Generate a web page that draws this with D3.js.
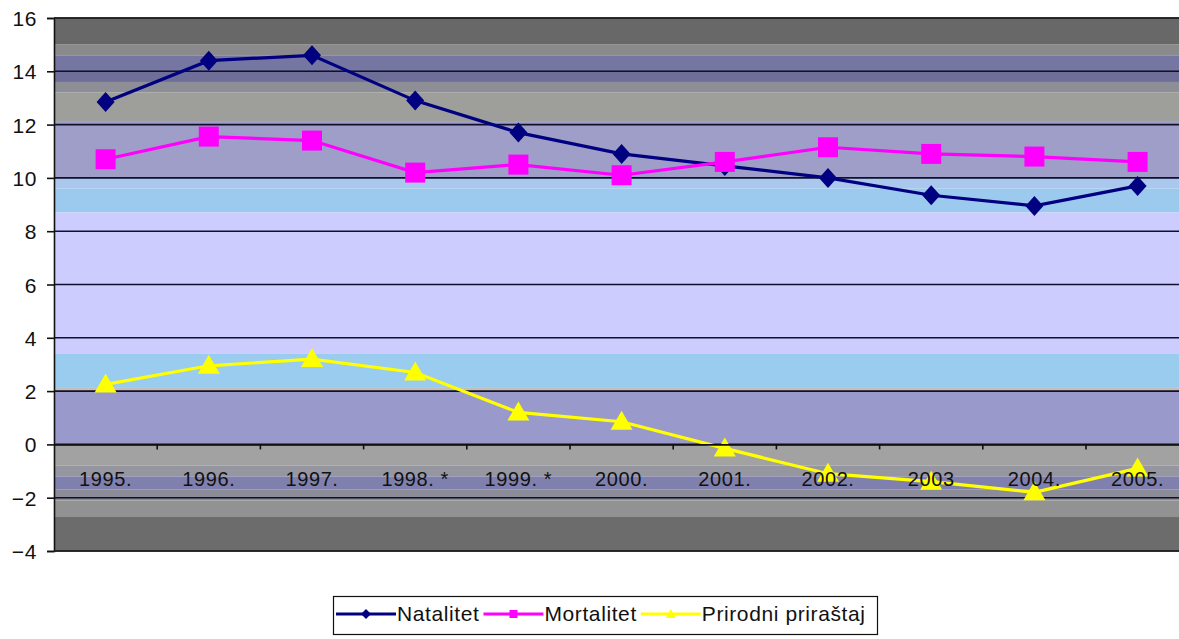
<!DOCTYPE html>
<html>
<head>
<meta charset="utf-8">
<script src="https://cdn.jsdelivr.net/npm/d3@7"></script>
<style>
  body { margin: 0; background: #fff; }
  text { font-family: "Liberation Sans", Arial, sans-serif; fill: #111; }
</style>
</head>
<body>
<svg id="chart"></svg>
<script>
// data
const years = ['1995.', '1996.', '1997.', '1998. *', '1999. *', '2000.', '2001.', '2002.', '2003', '2004.', '2005.'];
const natalitet = [12.85, 14.4, 14.6, 12.9, 11.7, 10.9, 10.45, 10.0, 9.35, 8.95, 9.7];
const mortalitet = [10.7, 11.55, 11.4, 10.2, 10.5, 10.1, 10.6, 11.15, 10.9, 10.8, 10.6];
const prirodni = [2.25, 2.95, 3.2, 2.7, 1.2, 0.85, -0.15, -1.1, -1.4, -1.8, -0.9];
const yTicks = [-4, -2, 0, 2, 4, 6, 8, 10, 12, 14, 16];

// background stripes of the plot area (value from, value to, colour)
const bands = [
  [16, 15.0, '#686868'], [15.0, 14.6, '#8a8a8c'], [14.6, 14.05, '#7676a2'],
  [14.05, 13.6, '#6e6e98'], [13.6, 13.2, '#8e8e96'], [13.2, 12.1, '#9e9e9a'],
  [12.1, 10.0, '#9e9ec8'], [10.0, 9.6, '#aac8ee'], [9.6, 8.7, '#9ccaee'],
  [8.7, 3.4, '#ccccff'], [3.4, 2.12, '#99ccee'], [2.12, 2.0, '#c4c0b8'],
  [2.0, 0, '#9999cc'], [0, -0.8, '#a2a2a2'], [-0.8, -1.2, '#9696a0'],
  [-1.2, -1.7, '#8080ae'], [-1.7, -2.1, '#8c8c98'], [-2.1, -2.7, '#929292'],
  [-2.7, -4, '#6c6c6c']
];

const width = 1179, height = 639;
const plot = {left: 54, top: 18, bottom: 551, step: 103.2};

const svg = d3.select('#chart')
    .attr('width', width)
    .attr('height', height);

const x = d3.scaleBand()
    .domain(years)
    .range([plot.left, plot.left + plot.step * years.length])
    .padding(0);
const y = d3.scaleLinear()
    .domain([-4, 16])
    .range([plot.bottom, plot.top]);

const right = x.range()[1];

// plot background
svg.append('g').selectAll('rect')
    .data(bands)
    .enter()
    .append('rect')
    .attr('x', plot.left)
    .attr('y', d => y(d[0]))
    .attr('width', right - plot.left)
    .attr('height', d => y(d[1]) - y(d[0]))
    .attr('fill', d => d[2]);

// gridlines
svg.append('g').selectAll('line')
    .data(yTicks)
    .enter()
    .append('line')
    .attr('x1', plot.left)
    .attr('x2', right)
    .attr('y1', d => y(d))
    .attr('y2', d => y(d))
    .attr('stroke', '#10102a')
    .attr('stroke-width', 1.6);

// y axis
const yAxis = svg.append('g')
    .attr('transform', 'translate(' + plot.left + ',0)')
    .call(d3.axisLeft(y).tickValues(yTicks).tickSize(7).tickPadding(10));
yAxis.select('.domain').attr('stroke', '#111').attr('stroke-width', 1.6);
yAxis.selectAll('line').attr('stroke', '#111').attr('stroke-width', 1.6);
yAxis.selectAll('text')
    .style('font-size', '21px')
    .attr('dy', '0.36em')
    .attr('letter-spacing', '0.6px');

// series
const cx = d => x(d) + x.bandwidth() / 2;
const diamond = 'M0,-10L9,0L0,10L-9,0Z';
const square = 'M-10,-10H10V10H-10Z';
const triangle = 'M0,-11L11,8H-11Z';

const series = [
  {name: 'Natalitet', values: natalitet, color: '#000080', marker: diamond, small: 'M0,-5L5,0L0,5L-5,0Z'},
  {name: 'Mortalitet', values: mortalitet, color: '#ff00ff', marker: square, small: 'M-4,-4H4V4H-4Z'},
  {name: 'Prirodni priraštaj', values: prirodni, color: '#ffff00', marker: triangle, small: 'M0,-5L5,4H-5Z'}
];

const line = d3.line()
    .x(d => cx(d.year))
    .y(d => y(d.value));

series.forEach(function(s) {
  const pts = years.map((yr, i) => ({year: yr, value: s.values[i]}));
  svg.append('path')
      .datum(pts)
      .attr('d', line)
      .attr('fill', 'none')
      .attr('stroke', s.color)
      .attr('stroke-width', 3.2);
  svg.append('g').selectAll('path')
      .data(pts)
      .enter()
      .append('path')
      .attr('transform', d => 'translate(' + cx(d.year) + ',' + y(d.value) + ')')
      .attr('d', s.marker)
      .attr('fill', s.color);
});

// x axis at zero, labels below (drawn over the series)
const xAxis = svg.append('g')
    .attr('transform', 'translate(0,' + y(0) + ')')
    .call(d3.axisBottom(x).tickSize(0).tickPadding(27));
xAxis.select('.domain').attr('stroke', '#111').attr('stroke-width', 1.6);
xAxis.selectAll('text')
    .style('font-size', '20px')
    .attr('fill', '#141420')
    .attr('letter-spacing', '0.6px');
xAxis.selectAll('.boundary')
    .data(years.slice(1))
    .enter()
    .append('line')
    .attr('class', 'boundary')
    .attr('x1', d => x(d))
    .attr('x2', d => x(d))
    .attr('y1', 0)
    .attr('y2', 5)
    .attr('stroke', '#111')
    .attr('stroke-width', 1.6);

// plot border top/bottom
svg.append('line')
    .attr('x1', plot.left).attr('x2', right)
    .attr('y1', plot.top).attr('y2', plot.top)
    .attr('stroke', '#222').attr('stroke-width', 1.6);
svg.append('line')
    .attr('x1', plot.left).attr('x2', right)
    .attr('y1', plot.bottom).attr('y2', plot.bottom)
    .attr('stroke', '#222').attr('stroke-width', 1.6);

// legend
const legend = svg.append('g');
const box = legend.append('rect')
    .attr('x', 333.5).attr('y', 596.5)
    .attr('height', 38)
    .attr('fill', '#fff')
    .attr('stroke', '#111')
    .attr('stroke-width', 1.2);
let lx = 336;
const ly = 614;
series.forEach(function(s) {
  legend.append('line')
      .attr('x1', lx).attr('x2', lx + 60)
      .attr('y1', ly).attr('y2', ly)
      .attr('stroke', s.color)
      .attr('stroke-width', 3);
  legend.append('path')
      .attr('transform', 'translate(' + (lx + 30) + ',' + ly + ')')
      .attr('d', s.small)
      .attr('fill', s.color);
  const t = legend.append('text')
      .attr('x', lx + 61)
      .attr('y', ly + 7)
      .style('font-size', '21px')
      .attr('letter-spacing', '0.6px')
      .text(s.name);
  lx = lx + 61 + t.node().getComputedTextLength() + 4;
});
box.attr('width', lx + 8 - 333.5);
</script>
</body>
</html>
